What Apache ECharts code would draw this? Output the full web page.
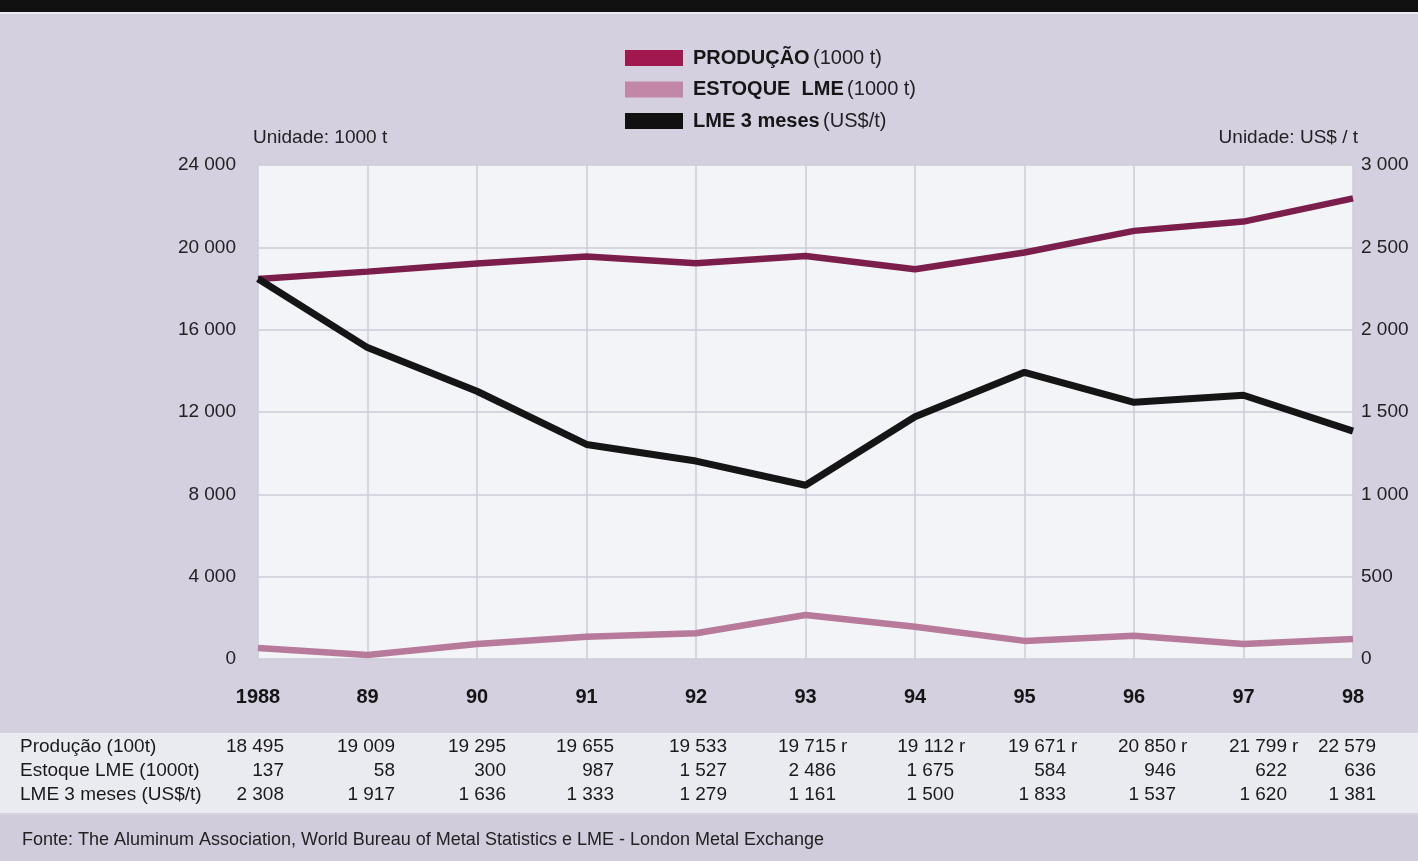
<!DOCTYPE html>
<html>
<head>
<meta charset="utf-8">
<script src="https://cdn.jsdelivr.net/npm/echarts@6/dist/echarts.min.js"></script>
<style>
html,body{margin:0;padding:0;background:#d4d0e0;}
#c{width:1418px;height:861px;}
</style>
</head>
<body>
<div id="c"></div>
<script>
// ---- data ----
const years = ['1988','89','90','91','92','93','94','95','96','97','98'];
const producaoPlot = [18460, 18820, 19220, 19550, 19230, 19580, 18935, 19750, 20800, 21250, 22380];
const estoquePlot  = [535, 195, 730, 1080, 1250, 2140, 1570, 880, 1130, 730, 970];
const lmePlot      = [2309, 1891, 1626, 1303, 1202, 1055, 1471, 1741, 1559, 1602, 1384];

// table values (text)
const tabProducao = ['18 495','19 009','19 295','19 655','19 533','19 715','19 112','19 671','20 850','21 799','22 579'];
const tabProducaoFlag = ['','','','','','r','r','r','r','r',''];
const tabEstoque  = ['137','58','300','987','1 527','2 486','1 675','584','946','622','636'];
const tabLme      = ['2 308','1 917','1 636','1 333','1 279','1 161','1 500','1 833','1 537','1 620','1 381'];
const tabRowLabels = ['Produção (100t)','Estoque LME (1000t)','LME 3 meses (US$/t)'];

const seriesNames = ['PRODUÇÃO','ESTOQUE  LME','LME 3 meses'];
const seriesUnits = ['(1000 t)','(1000 t)','(US$/t)'];
const fonte = 'Fonte: The Aluminum Association, World Bureau of Metal Statistics e LME - London Metal Exchange';

// ---- layout ----
const FONT = '"Liberation Sans", Arial, sans-serif';
const colRight = [284,395,506,614,727,836,954,1066,1176,1287,1376];
const rowY = [747,771,795];

function fmt(v){ return String(v).replace(/\B(?=(\d{3})+(?!\d))/g,' '); }

const chart = echarts.init(document.getElementById('c'), null, {renderer:'canvas'});

const graphics = [
  {type:'rect', shape:{x:0,y:0,width:1418,height:12}, style:{fill:'#111'}, z:-10},
  {type:'rect', shape:{x:0,y:12,width:1418,height:2}, style:{fill:'#eceaf2'}, z:-10},
  {type:'rect', shape:{x:0,y:733,width:1418,height:80}, style:{fill:'#eaebf1'}, z:-10},
  {type:'rect', shape:{x:0,y:815,width:1418,height:46}, style:{fill:'#d0ccdc'}, z:-10},
  {type:'text', x:22, y:840, style:{text:fonte, font:'18px '+FONT, fill:'#222', textVerticalAlign:'middle'}}
];
const tableRows = [tabProducao, tabEstoque, tabLme];
tabRowLabels.forEach((lab,i)=>{
  graphics.push({type:'text', x:20, y:rowY[i], style:{text:lab, font:'19px '+FONT, fill:'#1a1a1a', textVerticalAlign:'middle'}});
});
tableRows.forEach((row,i)=>{
  row.forEach((t,j)=>{
    graphics.push({type:'text', x:colRight[j], y:rowY[i], style:{text:t, font:'19px '+FONT, fill:'#1a1a1a', textAlign:'right', textVerticalAlign:'middle'}});
    if(i===0 && tabProducaoFlag[j]){
      graphics.push({type:'text', x:colRight[j]+5, y:rowY[i], style:{text:tabProducaoFlag[j], font:'19px '+FONT, fill:'#1a1a1a', textAlign:'left', textVerticalAlign:'middle'}});
    }
  });
});

const lineColors = ['#7b1e4b','#b77a9a','#151515'];
const legendColors = ['#a1184f','#c287a6','#111'];

chart.setOption({
  backgroundColor:'#d4d0e0',
  animation:false,
  textStyle:{fontFamily:FONT},
  grid:{left:258,right:65,top:165,bottom:202,show:true,backgroundColor:'#f3f4f8',borderWidth:0},
  legend:{
    orient:'vertical', left:625, top:48, padding:0, itemWidth:58, itemHeight:16, itemGap:11.5,
    icon:'rect',
    data: seriesNames.map((n,i)=>({name:n, itemStyle:{color:legendColors[i]}})),
    formatter: function(name){ const i = seriesNames.indexOf(name); return '{b|'+name+'} {n|'+seriesUnits[i]+'}'; },
    textStyle:{padding:[0,0,0,5], rich:{
      b:{fontFamily:FONT, fontSize:20, fontWeight:'bold', color:'#161616', lineHeight:22},
      n:{fontFamily:FONT, fontSize:20, color:'#222', lineHeight:22}
    }}
  },
  xAxis:{
    type:'category', data:years, boundaryGap:false,
    axisLine:{show:false}, axisTick:{show:false},
    axisLabel:{margin:28, fontSize:20, fontWeight:'bold', color:'#151515', fontFamily:FONT},
    splitLine:{show:true, lineStyle:{color:'#cdcdd9', width:1.5}}
  },
  yAxis:[
    {type:'value', min:0, max:24000, interval:4000, position:'left',
     name:'Unidade: 1000 t', nameLocation:'end', nameGap:18,
     nameTextStyle:{align:'left', fontSize:19, color:'#222', padding:[0,0,0,-5], fontFamily:FONT},
     axisLine:{show:false}, axisTick:{show:false},
     axisLabel:{margin:22, fontSize:19, color:'#222', fontFamily:FONT, formatter:v=>fmt(v)},
     splitLine:{show:true, lineStyle:{color:'#cdcdd9', width:1.5}}},
    {type:'value', min:0, max:3000, interval:500, position:'right',
     name:'Unidade: US$ / t', nameLocation:'end', nameGap:18,
     nameTextStyle:{align:'right', fontSize:19, color:'#222', padding:[0,-5,0,0], fontFamily:FONT},
     axisLine:{show:false}, axisTick:{show:false},
     axisLabel:{margin:8, fontSize:19, color:'#222', fontFamily:FONT, formatter:v=>fmt(v)},
     splitLine:{show:false}}
  ],
  series:[
    {name:seriesNames[0], type:'line', yAxisIndex:0, data:producaoPlot, symbol:'none',
     lineStyle:{color:lineColors[0], width:6.5}, itemStyle:{color:lineColors[0]}, z:3},
    {name:seriesNames[1], type:'line', yAxisIndex:0, data:estoquePlot, symbol:'none',
     lineStyle:{color:lineColors[1], width:6.5}, itemStyle:{color:lineColors[1]}, z:2},
    {name:seriesNames[2], type:'line', yAxisIndex:1, data:lmePlot, symbol:'none',
     lineStyle:{color:lineColors[2], width:7}, itemStyle:{color:lineColors[2]}, z:4}
  ],
  graphic: graphics
});
</script>
</body>
</html>
